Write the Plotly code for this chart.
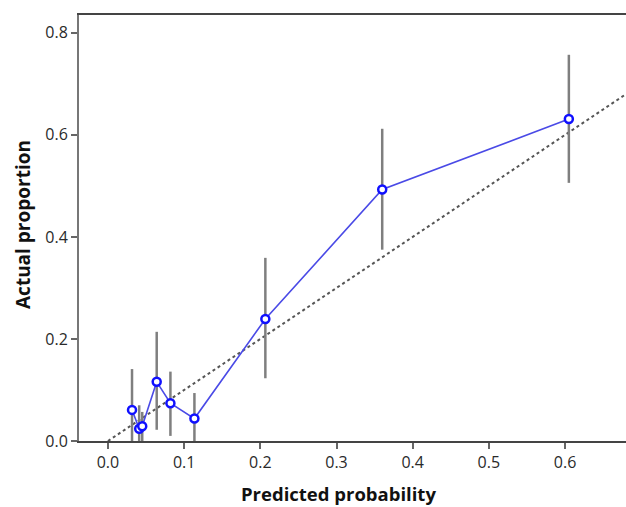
import plotly.graph_objects as go

predicted = [0.0316, 0.041, 0.045, 0.064, 0.082, 0.1135, 0.2066, 0.360, 0.605]
actual = [0.061, 0.024, 0.029, 0.116, 0.074, 0.044, 0.239, 0.493, 0.631]
ci_lower = [0.0, 0.0, 0.0, 0.022, 0.01, 0.0, 0.123, 0.375, 0.506]
ci_upper = [0.141, 0.070, 0.057, 0.214, 0.136, 0.094, 0.359, 0.612, 0.757]

diag = [0.0, 0.70]

err_plus = [u - a for u, a in zip(ci_upper, actual)]
err_minus = [a - l for a, l in zip(actual, ci_lower)]

fig = go.Figure()
fig.add_trace(go.Scatter(
    x=diag, y=diag, mode="lines",
    line=dict(color="#555555", width=2, dash="dot"),
    hoverinfo="skip", showlegend=False))
fig.add_trace(go.Scatter(
    x=predicted, y=actual, mode="markers",
    marker=dict(size=0.1, color="rgba(0,0,0,0)"),
    error_y=dict(type="data", symmetric=False, array=err_plus, arrayminus=err_minus,
                 color="#7f7f7f", thickness=2.5, width=0),
    showlegend=False))
fig.add_trace(go.Scatter(
    x=predicted, y=actual, mode="lines+markers",
    line=dict(color="#4a4ae6", width=1.6),
    marker=dict(symbol="circle", size=8, color="white",
                line=dict(color="#1010ff", width=2.5)),
    showlegend=False))

font_family = "Open Sans, Noto Sans, DejaVu Sans, sans-serif"

W, H = 626, 507
L, T, R, B = 79, 15, 0, 66
pw = W - L - R
ph = H - T - B

fig.update_layout(
    width=W, height=H,
    margin=dict(l=L, r=R, t=T, b=B),
    plot_bgcolor="white", paper_bgcolor="white",
    font=dict(family=font_family, size=16, color="#222222"),
    xaxis=dict(
        range=[-0.038, 0.68],
        tickvals=[0.0, 0.1, 0.2, 0.3, 0.4, 0.5, 0.6],
        ticktext=["0.0", "0.1", "0.2", "0.3", "0.4", "0.5", "0.6"],
        showgrid=False, zeroline=False,
        showline=True, linecolor="#444444", linewidth=1.5, mirror=True,
        ticks="outside", ticklen=6, tickcolor="#666666", tickwidth=1.5,
        tickfont=dict(size=16, color="#2a2a2a"),
    ),
    yaxis=dict(
        range=[0.0, 0.835],
        tickvals=[0.0, 0.2, 0.4, 0.6, 0.8],
        ticktext=["0.0", "0.2", "0.4", "0.6", "0.8"],
        showgrid=False, zeroline=False,
        showline=True, linecolor="#777777", linewidth=2,
        ticks="outside", ticklen=6, tickcolor="#666666", tickwidth=1.5,
        tickfont=dict(size=16, color="#2a2a2a"),
    ),
    annotations=[
        dict(text="<b>Predicted probability</b>", xref="paper", yref="paper",
             x=(338 - L) / pw, y=(441 - 493) / ph, xanchor="center", yanchor="middle",
             showarrow=False, font=dict(size=18.5, color="#111111")),
        dict(text="<b>Actual proportion</b>", xref="paper", yref="paper",
             x=(23 - L) / pw, y=(441 - 225) / ph, xanchor="center", yanchor="middle",
             textangle=-90, showarrow=False,
             font=dict(size=19, color="#111111")),
    ],
)

fig.write_html(
    "out.html",
    config={"displayModeBar": False},
    post_script="document.body.style.margin='0px';document.body.style.overflow='hidden';",
)
